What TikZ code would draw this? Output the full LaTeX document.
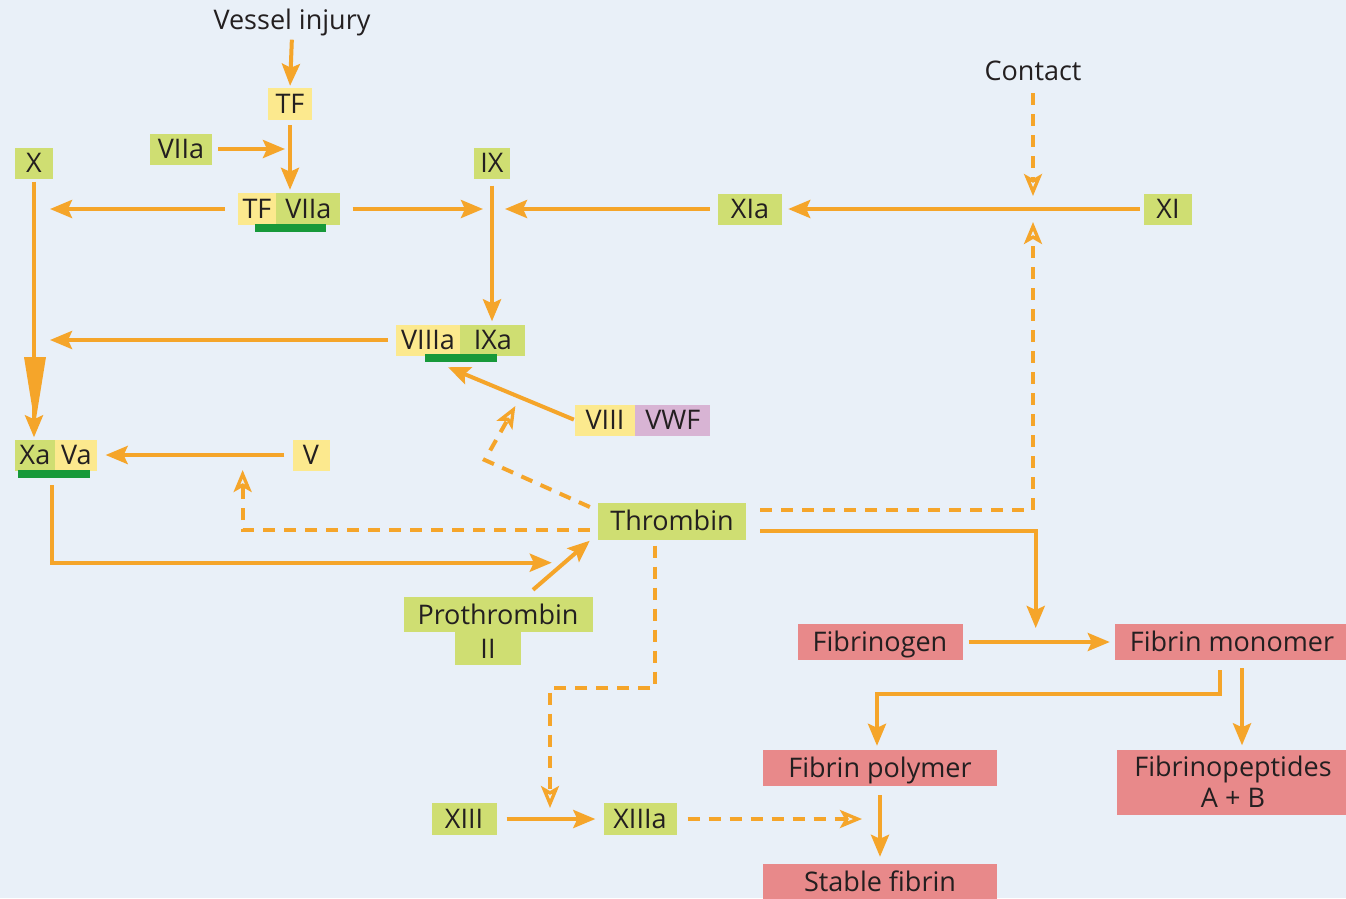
\documentclass[tikz,border=0pt]{standalone}
\usepackage{fontspec}
\setmainfont{Open Sans}
\usetikzlibrary{arrows.meta,calc}
\definecolor{bg}{HTML}{E9F0F8}
\definecolor{yel}{HTML}{FCE98E}
\definecolor{lime}{HTML}{CFDE72}
\definecolor{sal}{HTML}{E8898A}
\definecolor{pur}{HTML}{D8B4D4}
\definecolor{org}{HTML}{F5A52A}
\definecolor{dgr}{HTML}{17993A}
\definecolor{txt}{HTML}{231F20}
\newcommand\dfont{\fontsize{27}{31}\selectfont}
\tikzset{
 box/.style={inner sep=0pt, text height=25pt, text depth=6pt, minimum height=31pt, font=\dfont, text=txt},
 yb/.style={box, fill=yel},
 gb/.style={box, fill=lime},
 pb/.style={box, fill=pur},
 rb/.style={box, fill=sal, minimum height=36pt},
 rbm/.style={inner sep=0pt, font=\dfont, text=txt, fill=sal, align=center},
 ulbar/.style={fill=dgr, inner sep=0pt, minimum height=8pt},
 lbl/.style={font=\dfont, text=txt, inner sep=0pt},
 arr/.style={draw=org, line width=4pt, -{Stealth[length=22pt,width=18pt,inset=4pt]}},
 darr/.style={draw=org, line width=4pt, dash pattern=on 12pt off 9pt, -{Stealth[open,length=22pt,width=18pt,inset=5pt,line width=3.3pt]}}
}
\begin{document}
\begin{tikzpicture}[x=1pt,y=-1pt]
\fill[bg] (0,0) rectangle (1346,898);
\useasboundingbox (0,0) rectangle (1346,898);
\clip (0,0) rectangle (1346,898);
% labels
\node[lbl] (vessel) at (292,22) {Vessel injury};
\node[lbl] (contact) at (1033,71) {Contact};
% nodes
\node[yb, minimum width=44pt, minimum height=32pt] (TF) at (290,104) {TF};
\node[gb, minimum width=62pt, minimum height=30pt] (VIIa) at (181,149) {VIIa};
\node[yb, minimum width=38pt, minimum height=32pt] (tfp) at (257,209) {TF};
\node[gb, minimum width=64pt, minimum height=32pt, anchor=west] (vp) at (tfp.east) {VIIa};
\node[ulbar, minimum width=71pt] (ul1) at (290.5,228) {};
\node[gb, minimum width=38pt, minimum height=30pt] (X) at (34,163) {X};
\node[gb, minimum width=36pt, minimum height=30pt] (IX) at (492,163) {IX};
\node[gb, minimum width=64pt, minimum height=30pt] (XIa) at (750,209) {XIa};
\node[gb, minimum width=48pt, minimum height=30pt] (XI) at (1168,209) {XI};
\node[yb, minimum width=64pt] (viiia) at (428,340) {VIIIa};
\node[gb, minimum width=65pt, anchor=west] (ixa) at (viiia.east) {IXa};
\node[ulbar, minimum width=72pt] (ul2) at (461,358) {};
\node[yb, minimum width=60pt, minimum height=30pt] (viii) at (605,420) {VIII};
\node[pb, minimum width=75pt, minimum height=30pt, anchor=west] (vwf) at (viii.east) {VWF};
\node[gb, minimum width=40pt, minimum height=30pt] (xa) at (35,455) {Xa};
\node[yb, minimum width=42pt, minimum height=30pt, anchor=west] (va) at (xa.east) {Va};
\node[ulbar, minimum width=72pt] (ul3) at (54,474) {};
\node[yb, minimum width=37pt, minimum height=30pt] (V) at (311,455) {V};
\node[gb, minimum width=148pt, minimum height=37pt] (thr) at (672,521) {Thrombin};
\node[gb, minimum width=189pt, minimum height=35pt] (pro) at (498,614.5) {Prothrombin};
\node[gb, minimum width=66pt, minimum height=33pt] (II) at (488,648.5) {II};
\node[rb, minimum width=165pt] (fgn) at (880,642) {Fibrinogen};
\node[rb, minimum width=234pt] (fm) at (1232,642) {Fibrin monomer};
\node[rb, minimum width=234pt] (fpol) at (880,768) {Fibrin polymer};
\node[rbm, minimum width=232pt, minimum height=65pt] (fpep) at (1233,782) {Fibrinopeptides\\A + B};
\node[rb, minimum width=234pt] (sf) at (880,882) {Stable fibrin};
\node[gb, minimum width=65pt, minimum height=32pt] (xiii) at (464,819) {XIII};
\node[gb, minimum width=73pt, minimum height=32pt] (xiiia) at (640,819) {XIIIa};
% coordinates
\coordinate (t11) at ($(ul2.south)+(-13,5)$);
\coordinate (m11) at ($(viii.west)!0.43!(t11)$);
\coordinate (jx) at ($(thr.south west)+(-46,23)$);
\coordinate (fx) at ($(fgn.east)!0.48!(fm.west)$);
\coordinate (xarr) at ($(xiii.east)!0.5!(xiiia.west)$);
\coordinate (varr) at ($(va.east)!0.745!(V.west)$);
\coordinate (bend) at ($(thr.west)+(-113,-61)$);
\coordinate (jxi) at (contact |- XI);
\coordinate (fms1) at ($(fm.south)+(-12,10)$);
\coordinate (fms2) at ($(fm.south)+(10,8)$);
\coordinate (fpc) at ($(fpol.north)+(-3,-56)$);
% solid connectors
\draw[arr, shorten <=4pt, shorten >=2pt] (vessel.south) -- (TF.north);
\draw[arr, shorten <=5pt, shorten >=3pt] (TF.south) -- (TF.south |- tfp.north);
\draw[arr, shorten <=6pt, shorten >=5pt] (VIIa.east) -- (VIIa.east -| TF.south);
\draw[arr, shorten <=13pt, shorten >=16pt] (tfp.west) -- (tfp.west -| X.center);
\draw[arr, shorten <=12pt, shorten >=9pt] (vp.east) -- (vp.east -| IX.center);
\draw[arr, shorten <=8pt, shorten >=13pt] (XIa.west) -- (XIa.west -| IX.center);
\draw[arr, shorten <=4pt, shorten >=6pt] (XI.west) -- (XIa.east);
\fill[org] (24,357) -- (46,357) -- (35,425) -- cycle;
\draw[arr, shorten <=3pt, shorten >=2pt] (X.south) -- (X.south |- xa.north);
\draw[arr, shorten <=7pt, shorten >=3pt] (IX.south) -- (IX.south |- ixa.north);
\draw[arr, shorten <=8pt, shorten >=16pt] (viiia.west) -- (viiia.west -| X.center);
\draw[arr, shorten <=1pt] (viii.west) -- (t11);
\draw[arr, shorten <=8pt, shorten >=8pt] (V.west) -- (va.east);
\draw[arr] ($(ul3.south)+(-2,7)$) |- (jx);
\draw[arr] ($(pro.north)+(35,-7)$) -- ($(thr.south west)+(-8,1)$);
\draw[arr, shorten >=14pt] ($(thr.east)+(14,10)$) -| (fx);
\draw[arr, shorten <=6pt, shorten >=5pt] (fgn.east) -- (fm.west);
\draw[arr, shorten >=4pt] (fms1) |- (fpc) -- (fpc |- fpol.north);
\draw[arr, shorten >=4pt] (fms2) -- (fms2 |- fpep.north);
\draw[arr, shorten <=9pt, shorten >=7pt] (fpol.south) -- (sf.north);
\draw[arr, shorten <=10pt, shorten >=8pt] (xiii.east) -- (xiiia.west);
% dashed connectors
\draw[darr, shorten <=11pt, shorten >=18pt] (xiiia.east) -- (fpol.south |- xiiia.east);
\draw[darr, shorten >=11pt] ($(thr.south)+(-17,6)$) |- ($(xarr)+(0,-131)$) -- (xarr);
\draw[darr, shorten >=15pt] ($(thr.west)+(-8,9)$) -| (varr);
\draw[darr, shorten >=10pt] ($(thr.west)+(-8,-14)$) -- (bend) -- (m11);
\draw[darr, shorten >=13pt] ($(thr.east)+(14,-11)$) -| (jxi);
\draw[darr, shorten <=12pt, shorten >=13pt] (contact.south) -- (jxi);
\end{tikzpicture}
\end{document}
